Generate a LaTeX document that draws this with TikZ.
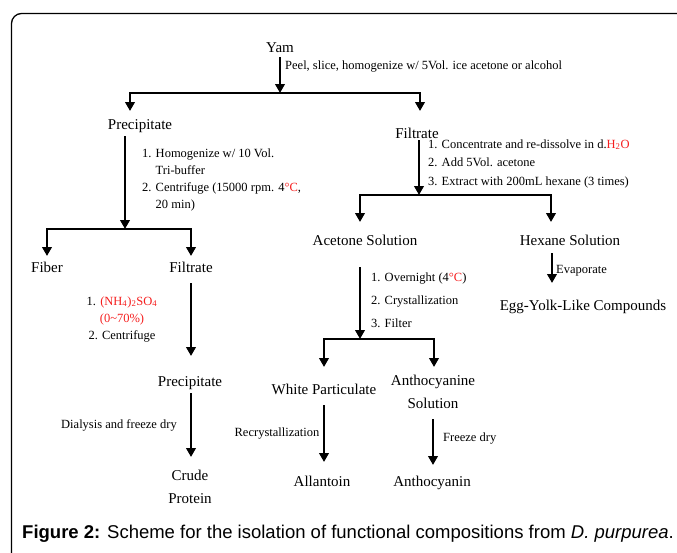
\documentclass[tikz,border=0pt]{standalone}
\usepackage{fontspec}
\setmainfont{Liberation Serif}
\newfontfamily\capfont{Liberation Sans}
\usetikzlibrary{arrows.meta}
\definecolor{rd}{RGB}{245,30,30}
\newcommand{\rd}[1]{\textcolor{rd}{#1}}
\begin{document}
\begin{tikzpicture}[x=1pt,y=-1pt,
 lab/.style={font=\fontsize{15}{23}\selectfont, inner sep=0pt, align=center},
 stp/.style={font=\fontsize{12.5}{17}\selectfont, inner sep=0pt},
 arr/.style={line width=2.8pt, -{Triangle[width=9.5pt,length=9pt]}},
 frame/.style={line width=1.3pt, line cap=butt}]
\useasboundingbox (0,0) rectangle (677,552);
\draw[frame] (690,13.5) -- (21.5,13.5) arc[start angle=270, end angle=180, radius=10] -- (11.5,560);

% main labels
\node[lab, anchor=base] (yam) at (280,52) {Yam};
\node[lab, anchor=base] (prec1) at (140,129) {Precipitate};
\node[lab, anchor=base] (filt1) at (417,138) {Filtrate};
\node[lab, anchor=base] (fiber) at (47,272) {Fiber};
\node[lab, anchor=base] (filt2) at (191,272) {Filtrate};
\node[lab, anchor=base] (acet) at (365,245) {Acetone Solution};
\node[lab, anchor=base] (hex) at (570,245) {Hexane Solution};
\node[lab, anchor=base] (egg) at (583,310) {Egg-Yolk-Like Compounds};
\node[lab, anchor=base] (prec2) at (190,386) {Precipitate};
\node[lab, anchor=base] (white) at (324,394) {White Particulate};
\node[lab, anchor=base] (antho) at (433,408) {Anthocyanine\\Solution};
\node[lab, anchor=base] (crude) at (190,503) {Crude\\Protein};
\node[lab, anchor=base] (allan) at (322,486) {Allantoin};
\node[lab, anchor=base] (anthc) at (432,486) {Anthocyanin};

% step texts
\node[stp, anchor=base west] (st0) at (285,69) {Peel, slice, homogenize w/ 5Vol. ice acetone or alcohol};
\node[stp, anchor=base west] (st1) at (142,157) {\begin{tabular}[t]{@{}l@{ }l@{}}1.&Homogenize w/ 10 Vol.\\&Tri-buffer\\2.&Centrifuge (15000 rpm. 4\rd{°C},\\&20 min)\end{tabular}};
\node[stp, font=\fontsize{12.5}{18.5}\selectfont, anchor=base west] (st2) at (428,148) {\begin{tabular}[t]{@{}l@{}}1. Concentrate and re-dissolve in d.\rd{H\textsubscript{2}O}\\2. Add 5Vol. acetone\\3. Extract with 200mL hexane (3 times)\end{tabular}};
\node[stp, anchor=base] (st3) at (122,305) {\begin{tabular}[t]{@{}c@{}}1. \rd{(NH\textsubscript{4})\textsubscript{2}SO\textsubscript{4}}\\\rd{(0\textasciitilde70\%)}\\2. Centrifuge\end{tabular}};
\node[stp, anchor=base] (st4) at (119,428) {Dialysis and freeze dry};
\node[stp, font=\fontsize{12.5}{23}\selectfont, anchor=base west] (st5) at (371,281) {\begin{tabular}[t]{@{}l@{}}1. Overnight (4\rd{°C})\\2. Crystallization\\3. Filter\end{tabular}};
\node[stp, anchor=base west] (st6) at (556,273) {Evaporate};
\node[stp, anchor=base] (st7) at (277,436) {Recrystallization};
\node[stp, anchor=base west] (st8) at (443,441) {Freeze dry};

% caption
\node[anchor=base west, inner sep=0pt, font=\capfont\fontsize{18.5}{20}\selectfont] (cap) at (22,538.5) {\textbf{Figure 2:} Scheme for the isolation of functional compositions from \textit{D. purpurea}.};

% connector coordinates
\coordinate (s1) at (280,57);  \coordinate (j1) at (280,93);
\coordinate (t1a) at (130,111); \coordinate (t1b) at (420,111);
\coordinate (s2) at (125,136); \coordinate (j2) at (125,229);
\coordinate (t2a) at (47,256); \coordinate (t2b) at (191,256);
\coordinate (s3) at (191,283); \coordinate (t3) at (191,356);
\coordinate (s4) at (191,393); \coordinate (t4) at (191,457);
\coordinate (s5) at (419,140); \coordinate (j5) at (419,195);
\coordinate (t5a) at (360,222); \coordinate (t5b) at (551,222);
\coordinate (s6) at (360,267); \coordinate (j6) at (360,339);
\coordinate (t6a) at (324,367); \coordinate (t6b) at (434,367);
\coordinate (s7) at (552,253); \coordinate (t7) at (552,283);
\coordinate (s8) at (324,405); \coordinate (t8) at (324,462);
\coordinate (s9) at (433,419); \coordinate (t9) at (433,465);

\draw[arr] (s1) -- (j1);
\draw[arr] (j1) -| (t1a);
\draw[arr] (j1) -| (t1b);
\draw[arr] (s2) -- (j2);
\draw[arr] (j2) -| (t2a);
\draw[arr] (j2) -| (t2b);
\draw[arr] (s3) -- (t3);
\draw[arr] (s4) -- (t4);
\draw[arr] (s5) -- (j5);
\draw[arr] (j5) -| (t5a);
\draw[arr] (j5) -| (t5b);
\draw[arr] (s6) -- (j6);
\draw[arr] (j6) -| (t6a);
\draw[arr] (j6) -| (t6b);
\draw[arr] (s7) -- (t7);
\draw[arr] (s8) -- (t8);
\draw[arr] (s9) -- (t9);
\end{tikzpicture}
\end{document}
